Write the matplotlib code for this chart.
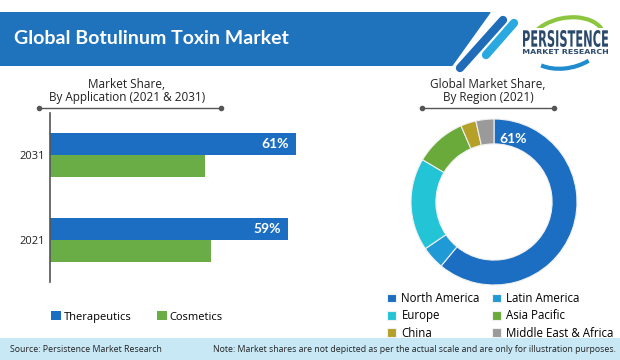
import matplotlib
matplotlib.use('Agg')
import matplotlib.pyplot as plt
from matplotlib.patches import Polygon, Rectangle, Arc, PathPatch, FancyBboxPatch
from matplotlib.textpath import TextPath
from matplotlib.font_manager import FontProperties
from matplotlib.transforms import Affine2D

# Data
years = ['2021', '2031']
therapeutics = [59, 61]
cosmetics = [40, 38.5]
bar_labels = ['59%', '61%']

regions = ['North America', 'Latin America', 'Europe', 'Asia Pacific', 'China', 'Middle East & Africa']
region_share = [61, 4.5, 18, 10, 3, 3.5]
region_colors = ['#1b6ec2', '#1f9ad6', '#22c4d6', '#6aaa3a', '#b5a02a', '#9a9a9a']

BLUE = '#1b6ec2'
GREEN = '#6aac45'

plt.rcParams['font.family'] = ['Open Sans', 'DejaVu Sans']

W, H = 620, 360
fig = plt.figure(figsize=(6.2, 3.6), dpi=100)
fig.patch.set_facecolor('white')


def px_axes(x0, y0, x1, y1):
    # axes from pixel box (y measured from top)
    return fig.add_axes([x0 / W, (H - y1) / H, (x1 - x0) / W, (y1 - y0) / H])


# background / decoration layer
bg = fig.add_axes([0, 0, 1, 1])
bg.set_xlim(0, W)
bg.set_ylim(H, 0)
bg.axis('off')

# header banner
banner = FancyBboxPatch((-20, 12), 515, 54, boxstyle='round,pad=0,rounding_size=7',
                        facecolor='#1f73bd', edgecolor='none')
bg.add_patch(banner)
bg.add_patch(Polygon([[494, 8], [540, 8], [500, 75], [446, 75]], closed=True,
                     facecolor='white', edgecolor='none'))
bg.plot([460, 503], [68, 20], color='#1f6cb8', lw=6, solid_capstyle='round')
bg.plot([486, 514], [55, 23], color='#29a9e0', lw=6, solid_capstyle='round')
bg.text(14, 39, 'Global Botulinum Toxin Market', color='white', fontsize=14,
        fontweight='bold', family='Lato', va='center', ha='left')

# logo
bg.add_patch(Arc((566, 43), 78, 50, angle=-12, theta1=175, theta2=365, color='#8cc63f', lw=3))
bg.add_patch(Arc((566, 43), 78, 50, angle=-12, theta1=50, theta2=150, color='#1f8ccf', lw=3))
bg.add_patch(Rectangle((519, 28), 94, 27, facecolor='white', edgecolor='none'))


def fit_text(s, x0, x1, ytop, ybot, color, weight='bold'):
    tp = TextPath((0, 0), s, size=10, prop=FontProperties(family='DejaVu Sans', weight=weight))
    ext = tp.get_extents()
    sx = (x1 - x0) / ext.width
    sy = (ybot - ytop) / ext.height
    tr = Affine2D().translate(-ext.x0, -ext.y0).scale(sx, -sy).translate(x0, ybot)
    bg.add_patch(PathPatch(tr.transform_path(tp), facecolor=color, edgecolor='none'))


fit_text('PERSISTENCE', 523, 608, 30, 47, '#2b4a6b')
fit_text('MARKET RESEARCH', 523, 608, 49, 54, '#2b4a6b')

# footer
bg.add_patch(Rectangle((0, 338), W, 22, facecolor='#c8e8f6', edgecolor='none'))
bg.text(10, 349, 'Source: Persistence Market Research', fontsize=6.3, color='#222222',
        va='center', ha='left')
bg.text(616, 349, 'Note: Market shares are not depicted as per the actual scale and are only for illustration purposes.',
        fontsize=6.3, color='#222222', va='center', ha='right')

# chart titles with underline
bg.text(127, 91, 'Market Share,\nBy Application (2021 & 2031)', fontsize=8.5, color='#222222',
        ha='center', va='center', linespacing=1.1)
bg.plot([39, 221], [108, 108], color='#555555', lw=1, marker='o', markersize=3)
bg.text(488, 91, 'Global Market Share,\nBy Region (2021)', fontsize=8.5, color='#222222',
        ha='center', va='center', linespacing=1.1)
bg.plot([422, 554], [108, 108], color='#555555', lw=1, marker='o', markersize=3)

# bar chart
ax = px_axes(50, 113, 310, 282)
ax.patch.set_alpha(0)
pos = list(range(len(years)))
bh = 0.26
ax.barh([p + bh / 2 for p in pos], therapeutics, height=bh, color=BLUE, label='Therapeutics')
ax.barh([p - bh / 2 for p in pos], cosmetics, height=bh, color=GREEN, label='Cosmetics')
for p, v, lab in zip(pos, therapeutics, bar_labels):
    ax.text(v - 1.8, p + bh / 2, lab, color='white', fontsize=10, fontweight='bold',
            family='Lato', ha='right', va='center')
ax.set_xlim(0, 64.47)
ax.set_ylim(-0.494, 1.494)
ax.set_yticks(pos)
ax.set_yticklabels(years, fontsize=8, color='#222222')
ax.tick_params(axis='y', length=0, pad=4)
ax.set_xticks([])
for s in ['top', 'right', 'bottom']:
    ax.spines[s].set_visible(False)
ax.spines['left'].set_color('#555555')
ax.spines['left'].set_linewidth(1.2)

ax.legend(loc='upper left', bbox_to_anchor=(1 / 260, -0.172), ncol=2, frameon=False,
          fontsize=8, handlelength=0.9, handleheight=0.9, handletextpad=0.3,
          columnspacing=2.2, borderaxespad=0, borderpad=0)

# donut chart
cx, cy, R = 494, 202, 83
ax2 = px_axes(cx - 90, cy - 90, cx + 90, cy + 90)
wedges, _ = ax2.pie(region_share, colors=region_colors, startangle=90, counterclock=False,
                    radius=1, wedgeprops=dict(width=0.3, edgecolor='#f0f0f0', linewidth=0.8))
ax2.set_xlim(-90 / R, 90 / R)
ax2.set_ylim(-90 / R, 90 / R)
ax2.set_aspect('equal')
ax2.text(0.23, 0.76, f'{region_share[0]}%', color='white', fontsize=10, fontweight='bold',
         family='Lato', ha='center', va='center')

# legend fills column-wise, reorder so rows read left to right
order = [0, 2, 4, 1, 3, 5]
ax2.legend([wedges[i] for i in order], [regions[i] for i in order], loc='upper left',
           bbox_to_anchor=(387 / W, (H - 292) / H), bbox_transform=fig.transFigure,
           ncol=2, frameon=False, fontsize=8.3, handlelength=0.8, handleheight=0.8,
           handletextpad=0.45, columnspacing=1.05, labelspacing=0.38, borderaxespad=0,
           borderpad=0)

plt.savefig('out.png', dpi=100)
